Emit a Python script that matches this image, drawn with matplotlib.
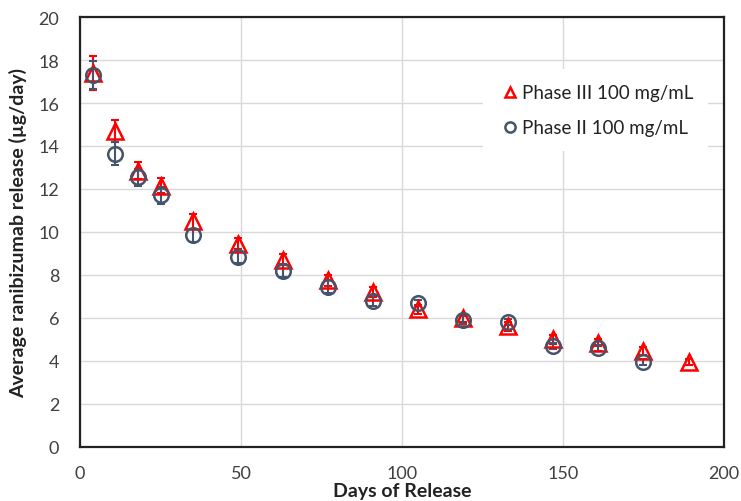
import numpy as np
import matplotlib.pyplot as plt

plt.rcParams['font.family'] = ['Lato', 'DejaVu Sans']

days3 = [4, 11, 18, 25, 35, 49, 63, 77, 91, 105, 119, 133, 147, 161, 175, 189]
rel3 = [17.4, 14.7, 12.85, 12.15, 10.5, 9.45, 8.7, 7.75, 7.2, 6.4, 6.0, 5.6, 5.0, 4.85, 4.45, 3.95]
err3 = [0.8, 0.5, 0.4, 0.35, 0.35, 0.25, 0.25, 0.25, 0.25, 0.2, 0.2, 0.2, 0.2, 0.15, 0.2, 0.15]

days2 = [4, 11, 18, 25, 35, 49, 63, 77, 91, 105, 119, 133, 147, 161, 175]
rel2 = [17.3, 13.65, 12.55, 11.7, 9.85, 8.85, 8.2, 7.45, 6.8, 6.7, 5.9, 5.8, 4.7, 4.6, 3.95]
err2 = [0.65, 0.55, 0.4, 0.4, 0.3, 0.3, 0.3, 0.3, 0.25, 0.15, 0.2, 0.15, 0.15, 0.15, 0.15]

red = '#FF0000'
navy = '#44546A'

fig = plt.figure(figsize=(7.41, 5.02), dpi=100)
ax = fig.add_axes([0.108, 0.108, 0.869, 0.856])

ax.errorbar(days3, rel3, yerr=err3, fmt='none', ecolor=red, elinewidth=1.5, capsize=3, capthick=1.5, zorder=3)
ax.errorbar(days2, rel2, yerr=err2, fmt='none', ecolor=navy, elinewidth=1.5, capsize=3, capthick=1.5, zorder=3)
ax.plot(days3, rel3, '^', ms=11, mfc='none', mec=red, mew=1.8, ls='none', label='Phase III 100 mg/mL', zorder=4)
ax.plot(days2, rel2, 'o', ms=10.5, mfc='none', mec=navy, mew=1.8, ls='none', label='Phase II 100 mg/mL', zorder=4)

ax.set_xlim(0, 200)
ax.set_ylim(0, 20)
ax.set_xticks([0, 50, 100, 150, 200])
ax.set_yticks(np.arange(0, 21, 2))
ax.grid(True, color='#d9d9d9', lw=1)
ax.set_axisbelow(True)
ax.tick_params(length=0, labelsize=13, labelcolor='#404040', pad=15)
ax.tick_params(axis='x', pad=13)
for s in ax.spines.values():
    s.set_linewidth(1.6)
    s.set_color('#222222')

ax.set_xlabel('Days of Release', fontsize=14, fontweight='bold', color='#222222', labelpad=1)
ax.set_ylabel('Average ranibizumab release (µg/day)', fontsize=14, fontweight='bold', color='#222222', labelpad=8)

leg = ax.legend(loc='upper right', bbox_to_anchor=(0.99, 0.9), frameon=True, fontsize=13.5,
                handletextpad=0.05, handlelength=1.2, markerscale=0.7, borderpad=0.8, labelspacing=0.95)
leg.get_frame().set_edgecolor('none')
leg.get_frame().set_facecolor('white')
leg.get_frame().set_alpha(1)
for t in leg.get_texts():
    t.set_color('#222222')

fig.savefig('out.png', dpi=100)
